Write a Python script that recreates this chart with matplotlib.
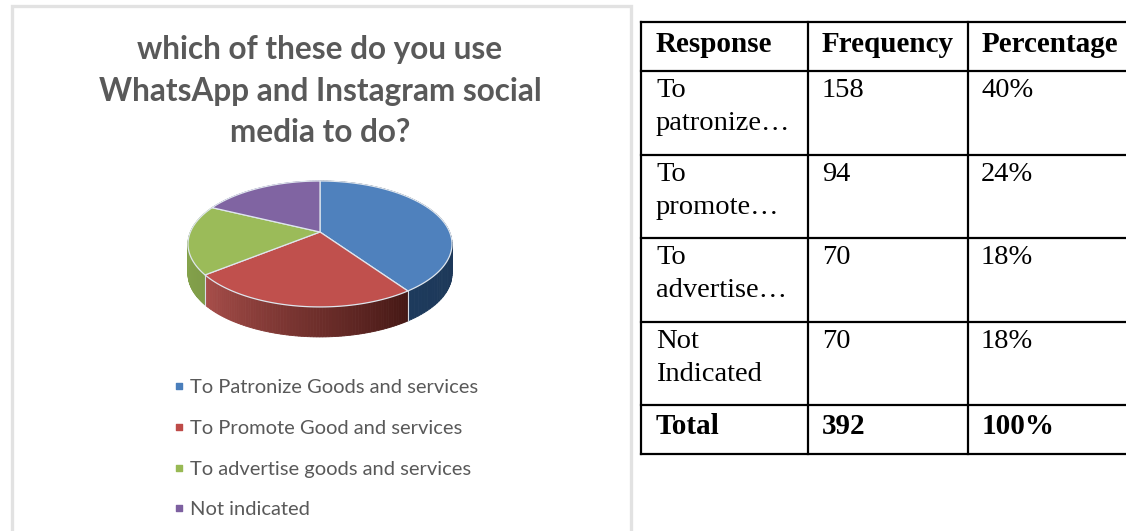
import numpy as np
import matplotlib
matplotlib.use("Agg")
import matplotlib.pyplot as plt

# data
chartTitle = ["which of these do you use", "WhatsApp and Instagram social", "media to do?"]
legendLabels = ["To Patronize Goods and services", "To Promote Good and services",
                "To advertise goods and services", "Not indicated"]
frequency = [158, 94, 70, 70]
tableHeader = ["Response", "Frequency", "Percentage"]
tableResponses = ["To\npatronize…", "To\npromote…", "To\nadvertise…", "Not\nIndicated"]
tablePercent = ["40%", "24%", "18%", "18%"]
totalRow = ["Total", "392", "100%"]

# colours for top face, and left/right ends of the side wall
topColors = ["#4f81bd", "#c0504d", "#9bbb59", "#8064a2"]
sideLeft = ["#1d3a5c", "#a84e4a", "#8aaa50", "#6a5290"]
sideRight = ["#1d3350", "#451815", "#7f9c48", "#6a5290"]
legendColors = ["#4a7ebb", "#be4b48", "#98b954", "#7d60a0"]
textGrey = "#595959"

fig = plt.figure(figsize=(11.26, 5.31), dpi=100)
ax = fig.add_axes([0, 0, 1, 1])
ax.set_xlim(0, 1126)
ax.set_ylim(531, 0)
ax.axis("off")

# card around the chart
ax.plot([12, 12, 631, 631], [531, 6, 6, 531], color="#e2e2e2", lw=2.4, solid_joinstyle="miter")

for i, line in enumerate(chartTitle):
    ax.text(320, 49 + i * 42, line, family="Lato", weight="bold", fontsize=22.7,
            color=textGrey, ha="center", va="center")

# pie, a circle seen in perspective. apex is where the slices meet
apexX, apexY = 320, 232
radiusX, radiusY = 129.6, 60.7
tilt = 0.19
depth = 30


def rimPoint(frac):
    # frac is the share of the way round, clockwise from 12 o'clock
    ang = 2 * np.pi * np.asarray(frac)
    u, v = np.sin(ang), np.cos(ang)
    w = 1 + tilt * v
    return apexX + radiusX * u / w, apexY - radiusY * v / w


def hexToRgb(c):
    return np.array(matplotlib.colors.to_rgb(c))


edges = np.cumsum([0] + frequency) / sum(frequency)

# side wall first, the top face covers the part at the back
for i in range(len(frequency)):
    steps = np.linspace(edges[i], edges[i + 1], 80)
    xs, ys = rimPoint(steps)
    order = range(len(xs) - 1)
    for j in order:
        # steps run right to left along the front, so flip for the gradient
        t = 1 - j / (len(xs) - 2)
        col = hexToRgb(sideLeft[i]) * (1 - t) + hexToRgb(sideRight[i]) * t
        ax.fill([xs[j], xs[j + 1], xs[j + 1], xs[j]],
                [ys[j], ys[j + 1], ys[j + 1] + depth, ys[j] + depth],
                color=col, lw=0.6, zorder=2)
    # pale seam where two slices meet on the wall
    ax.plot([xs[0], xs[0]], [ys[0], ys[0] + depth], color="#d8dde5", lw=0.8, zorder=2.5)

for i in range(len(frequency)):
    xs, ys = rimPoint(np.linspace(edges[i], edges[i + 1], 120))
    ax.fill(np.r_[apexX, xs], np.r_[apexY, ys], facecolor=topColors[i],
            edgecolor="#dfe6ee", lw=0.9, zorder=3)

# legend
for i, label in enumerate(legendLabels):
    yPos = 387.5 + i * 40.8
    ax.scatter([178.5], [yPos - 1.5], marker="s", s=24, color=legendColors[i], zorder=3)
    ax.text(190, yPos, label, family="Lato", fontsize=14.5, color=textGrey, va="center")

# table
colX = [641, 808, 968]
rowY = [22, 71, 155, 238, 322, 405, 454]
tableRight = 1126
for x in colX:
    ax.plot([x, x], [rowY[0], rowY[-1]], color="black", lw=1.6, solid_capstyle="projecting")
for y in rowY:
    ax.plot([colX[0], tableRight], [y, y], color="black", lw=1.6, solid_capstyle="projecting")

serif = "Liberation Serif"
for j, head in enumerate(tableHeader):
    ax.text(colX[j] + 15 - (j > 0) * 1, 44, head, family=serif, weight="bold", fontsize=21,
            color="black", va="center")
for i in range(len(tableResponses)):
    top = rowY[i + 1] + 7
    ax.text(colX[0] + 15, top, tableResponses[i], family=serif, fontsize=20.5, color="black",
            va="top", linespacing=1.42)
    ax.text(colX[1] + 14, top, str(frequency[i]), family=serif, fontsize=20.5, color="black", va="top")
    ax.text(colX[2] + 13, top, tablePercent[i], family=serif, fontsize=20.5, color="black", va="top")
for j, cell in enumerate(totalRow):
    ax.text(colX[j] + 15 - (j > 0) * 1, 427, cell, family=serif, weight="bold", fontsize=21,
            color="black", va="center")

fig.savefig("out.png", dpi=100, facecolor="white")
